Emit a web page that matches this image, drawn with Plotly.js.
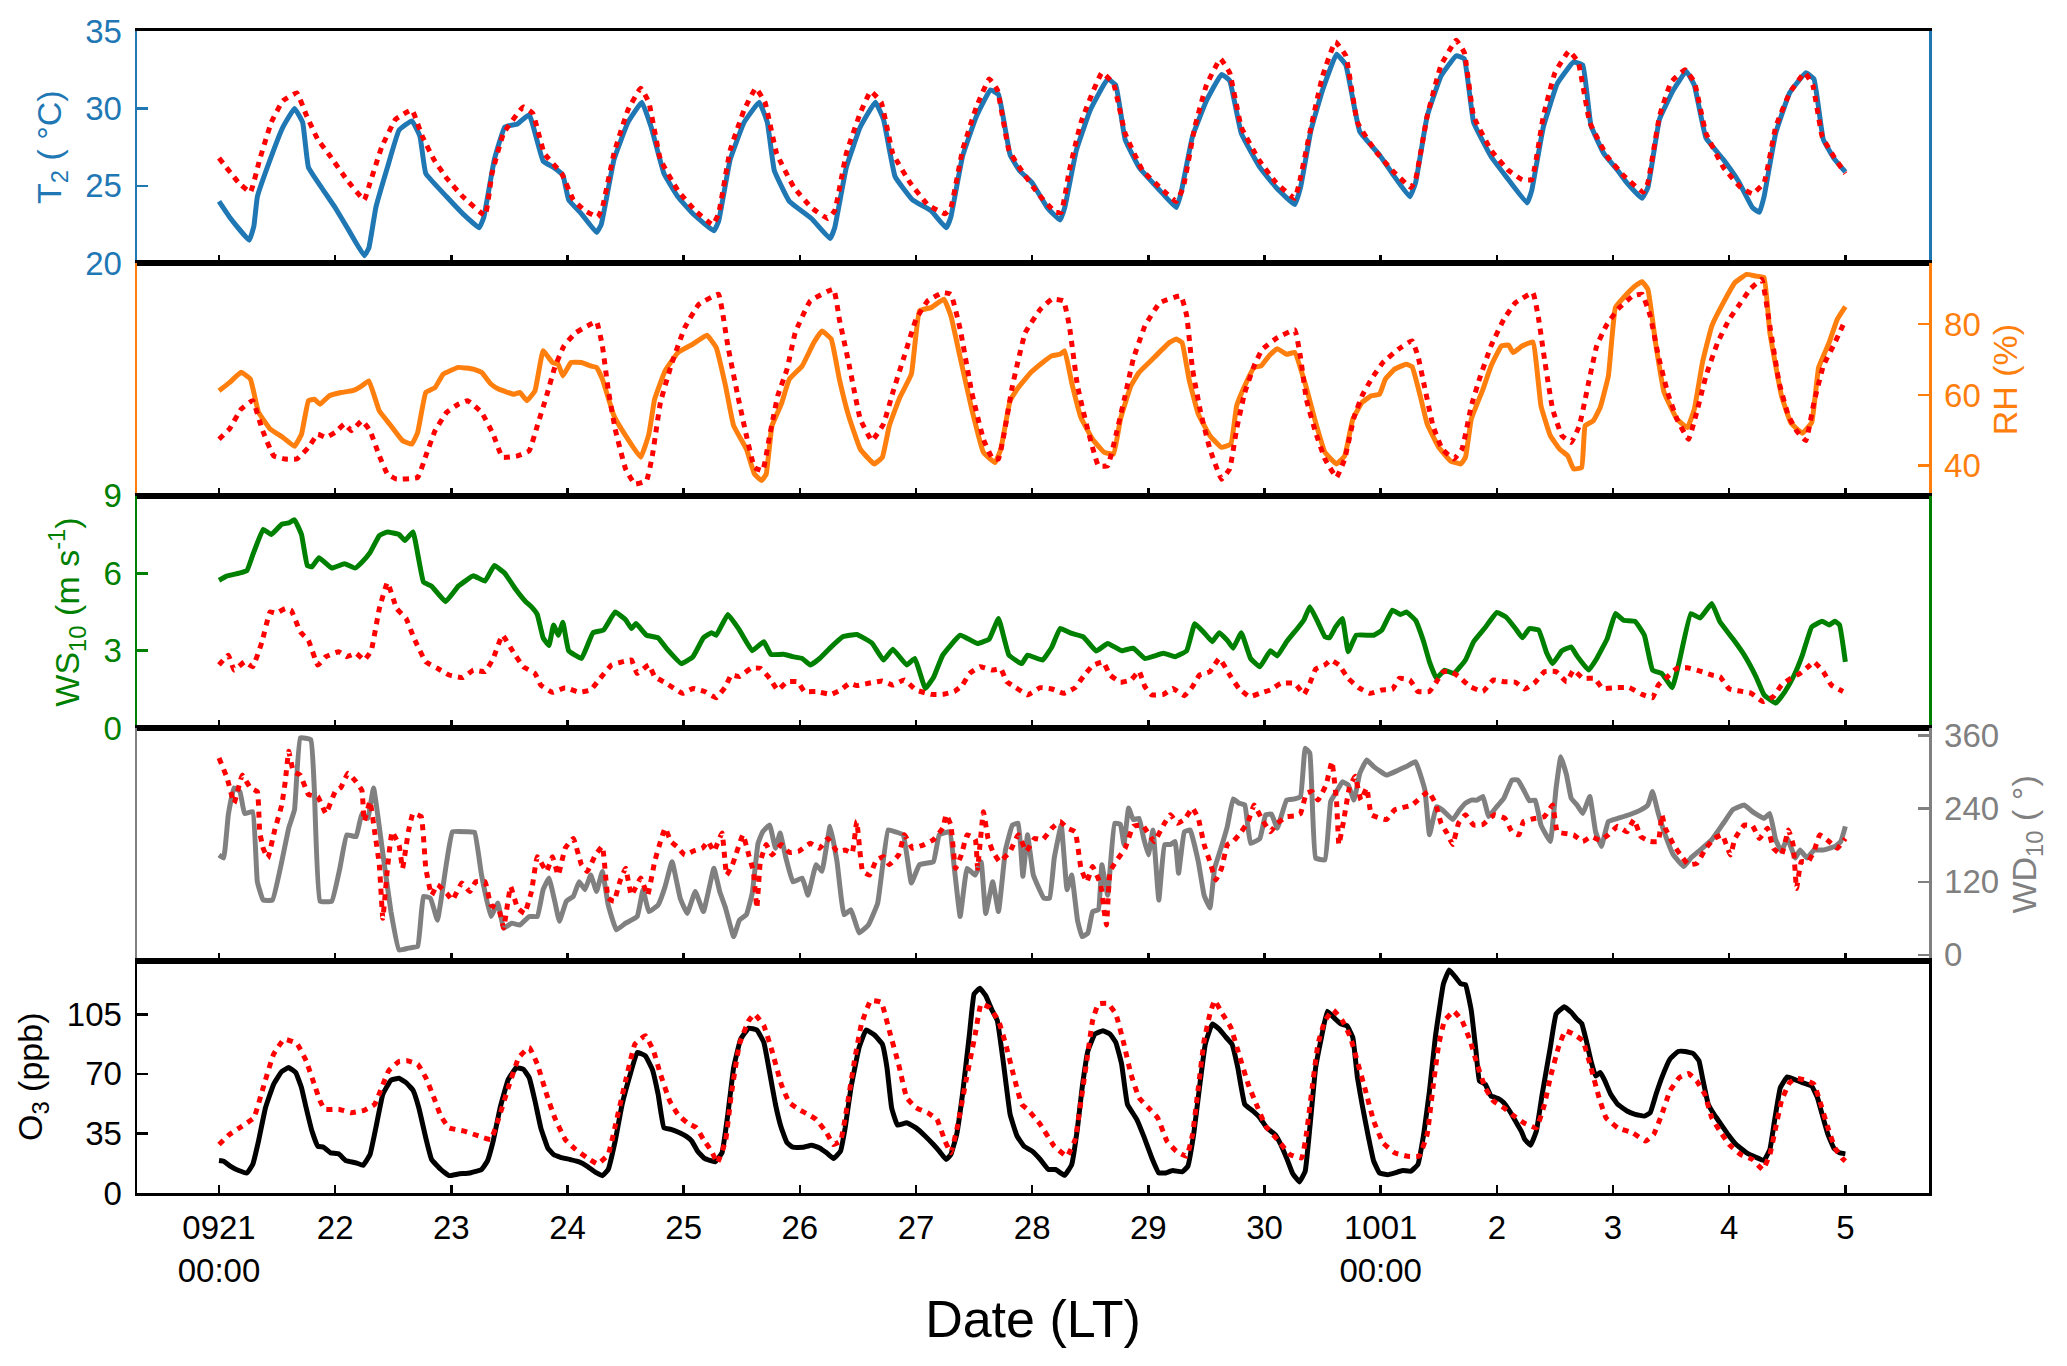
<!DOCTYPE html>
<html>
<head>
<meta charset="utf-8">
<script src="https://cdn.plot.ly/plotly-3.0.1.min.js"></script>
<style>html,body{margin:0;padding:0;background:#fff;}#chart{width:2067px;height:1366px;}</style>
</head>
<body>
<div id="chart"></div>
<script>
// ---- Data (day offset from 09-21 00:00 LT, value) ----
const DAY_TICKS = [0,1,2,3,4,5,6,7,8,9,10,11,12,13,14];
const DAY_LABELS = ['0921<br>00:00','22','23','24','25','26','27','28','29','30','1001<br>00:00','2','3','4','5'];

const T2_OBS = [[0,24.0],[0.09,23.0],[0.26,21.5],[0.3,22.4],[0.33,24.3],[0.44,26.7],[0.55,28.8],[0.65,30.0],[0.72,29.1],[0.77,26.2],[0.9,24.7],[1.0,23.6],[1.12,22.1],[1.25,20.5],[1.29,21.0],[1.35,23.6],[1.45,26.2],[1.55,28.6],[1.66,29.2],[1.73,28.2],[1.78,25.8],[1.96,24.3],[2.1,23.2],[2.24,22.3],[2.28,23.0],[2.37,26.7],[2.46,28.8],[2.57,29.0],[2.67,29.6],[2.79,26.6],[2.88,26.2],[2.96,25.7],[3.01,24.1],[3.12,23.2],[3.25,22.0],[3.29,22.5],[3.4,26.7],[3.52,29.1],[3.64,30.4],[3.72,28.8],[3.83,25.8],[3.95,24.3],[4.08,23.2],[4.26,22.1],[4.3,22.7],[4.4,26.7],[4.52,29.1],[4.65,30.4],[4.72,29.1],[4.78,26.0],[4.91,24.0],[5.1,22.9],[5.26,21.6],[5.3,22.3],[5.4,26.2],[5.52,28.8],[5.65,30.4],[5.72,29.3],[5.82,25.6],[5.97,24.1],[6.13,23.4],[6.26,22.3],[6.3,23.0],[6.4,26.9],[6.52,29.5],[6.64,31.2],[6.71,30.9],[6.81,27.0],[6.89,26.0],[7.0,25.2],[7.13,23.6],[7.24,22.8],[7.28,23.6],[7.38,27.3],[7.5,29.9],[7.65,31.9],[7.72,31.5],[7.8,28.0],[7.92,26.2],[8.1,24.7],[8.24,23.6],[8.28,24.5],[8.38,28.2],[8.5,30.5],[8.63,32.2],[8.7,31.8],[8.8,28.4],[8.96,26.2],[9.1,24.9],[9.26,23.8],[9.31,24.9],[9.4,28.6],[9.5,31.2],[9.62,33.5],[9.7,32.8],[9.82,28.5],[9.99,27.0],[10.1,25.8],[10.25,24.3],[10.3,25.2],[10.4,29.5],[10.52,32.1],[10.65,33.4],[10.72,33.2],[10.8,29.1],[10.95,26.9],[11.08,25.6],[11.26,23.9],[11.3,24.7],[11.4,28.8],[11.52,31.6],[11.66,33.0],[11.74,32.8],[11.81,28.9],[11.92,27.1],[12.04,26.0],[12.12,25.2],[12.25,24.2],[12.3,24.9],[12.4,29.3],[12.52,31.2],[12.63,32.4],[12.7,31.5],[12.8,28.1],[12.95,26.7],[13.08,25.3],[13.2,23.6],[13.26,23.3],[13.3,24.3],[13.4,28.4],[13.52,31.0],[13.66,32.3],[13.73,31.9],[13.81,28.0],[13.9,26.8],[14.0,25.9]];

const T2_MOD = [[0,26.8],[0.17,25.2],[0.27,24.6],[0.35,26.7],[0.45,29.1],[0.55,30.5],[0.67,31.0],[0.75,29.6],[0.85,28.0],[0.95,27.0],[1.1,25.4],[1.25,24.1],[1.3,25.2],[1.4,27.5],[1.52,29.3],[1.66,29.9],[1.75,28.2],[1.85,26.7],[1.96,25.5],[2.1,24.3],[2.29,23.1],[2.35,25.8],[2.45,28.4],[2.62,30.1],[2.7,29.7],[2.8,27.1],[2.95,25.8],[3.05,24.1],[3.15,23.4],[3.26,23.0],[3.3,23.6],[3.4,27.1],[3.52,29.9],[3.63,31.3],[3.7,30.4],[3.8,26.7],[3.95,24.7],[4.1,23.4],[4.25,22.5],[4.3,23.2],[4.4,27.3],[4.52,29.9],[4.62,31.3],[4.7,30.4],[4.8,27.1],[4.95,24.9],[5.1,23.6],[5.24,22.9],[5.3,23.4],[5.4,27.1],[5.52,29.7],[5.61,31.1],[5.7,30.4],[5.8,27.1],[5.95,25.2],[6.1,23.8],[6.25,23.2],[6.3,23.6],[6.4,27.3],[6.52,30.1],[6.63,31.9],[6.7,31.2],[6.8,27.3],[6.89,26.2],[7.05,24.5],[7.2,23.3],[7.25,23.3],[7.32,26.0],[7.42,29.1],[7.6,32.3],[7.7,31.6],[7.8,28.4],[7.95,26.0],[8.1,24.9],[8.24,24.0],[8.3,24.9],[8.4,28.8],[8.5,31.5],[8.62,33.2],[8.7,32.3],[8.8,28.8],[8.95,26.7],[9.1,25.2],[9.26,24.2],[9.3,25.2],[9.4,28.8],[9.5,32.1],[9.61,34.3],[9.7,33.4],[9.8,29.1],[9.95,27.3],[10.1,26.0],[10.26,24.9],[10.3,25.4],[10.4,29.5],[10.52,32.8],[10.65,34.4],[10.72,33.6],[10.8,29.5],[10.95,27.3],[11.1,26.0],[11.22,25.4],[11.3,25.4],[11.4,29.5],[11.5,32.3],[11.62,33.7],[11.7,33.0],[11.8,29.1],[11.95,26.9],[12.1,25.6],[12.26,24.6],[12.3,25.2],[12.4,29.5],[12.5,31.7],[12.62,32.5],[12.7,31.7],[12.8,28.4],[12.95,26.2],[13.1,24.9],[13.2,24.5],[13.3,25.2],[13.4,28.8],[13.52,31.0],[13.65,32.3],[13.72,31.5],[13.8,28.2],[13.9,26.9],[14.0,25.8]];

const RH_OBS = [[0,61.2],[0.09,63.5],[0.19,66.4],[0.27,64.5],[0.34,55.1],[0.44,50.4],[0.55,48.0],[0.65,45.5],[0.71,48.9],[0.77,58.4],[0.82,58.8],[0.87,57.4],[0.95,59.8],[1.05,60.7],[1.15,61.2],[1.23,62.6],[1.29,64.0],[1.38,55.5],[1.48,51.3],[1.58,47.1],[1.66,46.1],[1.71,49.4],[1.78,60.7],[1.86,62.1],[1.93,65.9],[2.06,67.8],[2.19,67.3],[2.26,66.4],[2.34,63.1],[2.41,61.6],[2.54,60.2],[2.59,60.7],[2.65,58.4],[2.72,61.2],[2.79,72.5],[2.87,69.2],[2.92,68.7],[2.96,65.4],[3.03,69.2],[3.12,69.2],[3.2,68.2],[3.25,67.8],[3.3,64.5],[3.4,54.1],[3.5,48.5],[3.63,42.4],[3.7,48.9],[3.75,58.8],[3.84,66.8],[3.95,72.0],[4.08,74.4],[4.2,76.9],[4.28,73.4],[4.36,62.6],[4.43,51.3],[4.54,44.7],[4.61,37.6],[4.67,35.8],[4.71,37.6],[4.76,51.3],[4.84,57.4],[4.91,64.5],[5.02,68.2],[5.12,74.8],[5.19,78.1],[5.27,75.8],[5.34,64.5],[5.42,54.1],[5.52,44.7],[5.64,40.5],[5.71,42.4],[5.77,51.3],[5.86,59.3],[5.96,65.9],[6.03,83.8],[6.13,84.7],[6.24,87.1],[6.3,82.4],[6.38,70.6],[6.48,56.0],[6.58,43.8],[6.68,40.9],[6.73,44.7],[6.81,58.4],[6.88,62.1],[6.99,66.4],[7.09,69.2],[7.17,71.1],[7.24,71.5],[7.28,72.5],[7.34,63.5],[7.42,53.6],[7.52,47.5],[7.62,43.8],[7.7,43.3],[7.76,53.2],[7.85,62.6],[7.92,66.4],[8.05,70.6],[8.18,74.8],[8.24,75.8],[8.29,74.8],[8.35,64.5],[8.43,54.6],[8.53,48.5],[8.63,45.2],[8.71,46.1],[8.76,56.9],[8.83,62.6],[8.91,67.8],[8.97,68.2],[9.04,71.1],[9.11,73.1],[9.19,71.5],[9.26,72.0],[9.36,62.1],[9.44,52.2],[9.52,43.8],[9.62,40.5],[9.69,42.8],[9.76,53.2],[9.84,57.9],[9.92,59.8],[9.99,60.2],[10.04,64.5],[10.12,67.3],[10.22,68.7],[10.27,68.0],[10.34,59.8],[10.4,51.8],[10.5,45.2],[10.6,41.4],[10.69,40.5],[10.73,42.4],[10.78,53.2],[10.88,61.6],[10.95,68.2],[11.04,73.9],[11.1,74.1],[11.14,72.0],[11.22,73.9],[11.31,75.0],[11.38,56.9],[11.46,48.5],[11.54,44.7],[11.61,42.8],[11.66,39.1],[11.73,39.5],[11.76,51.3],[11.83,52.7],[11.89,56.5],[11.96,65.4],[12.02,84.7],[12.09,87.5],[12.19,90.8],[12.25,92.0],[12.3,89.9],[12.37,73.9],[12.44,60.7],[12.55,53.2],[12.64,50.8],[12.7,56.0],[12.77,69.2],[12.85,79.5],[12.95,86.1],[13.05,91.8],[13.15,94.1],[13.23,93.6],[13.3,93.2],[13.35,77.6],[13.45,59.8],[13.53,52.2],[13.63,49.2],[13.71,52.2],[13.77,67.8],[13.86,74.8],[13.93,81.4],[14.0,85.0]];

const RH_MOD = [[0,47.5],[0.09,50.4],[0.19,56.0],[0.29,58.4],[0.37,50.4],[0.47,42.8],[0.57,41.9],[0.67,41.9],[0.77,45.2],[0.85,48.9],[0.92,48.0],[1.0,49.4],[1.08,51.8],[1.14,49.9],[1.23,52.7],[1.3,49.9],[1.38,42.8],[1.45,37.6],[1.53,36.2],[1.71,36.7],[1.78,42.8],[1.86,49.9],[1.96,55.1],[2.06,57.4],[2.14,58.4],[2.26,55.1],[2.36,48.9],[2.44,42.4],[2.57,42.8],[2.67,44.2],[2.74,51.3],[2.82,59.8],[2.89,67.8],[2.97,73.9],[3.07,77.6],[3.17,79.5],[3.25,80.7],[3.3,73.9],[3.35,61.6],[3.41,50.4],[3.5,39.1],[3.58,34.8],[3.68,35.8],[3.73,42.8],[3.8,57.9],[3.9,69.2],[4.01,79.1],[4.13,85.6],[4.3,88.5],[4.33,84.2],[4.38,73.9],[4.46,60.7],[4.54,48.5],[4.61,39.5],[4.68,38.6],[4.74,48.5],[4.81,59.8],[4.89,67.3],[4.96,77.6],[5.09,86.6],[5.29,89.9],[5.34,81.4],[5.42,69.2],[5.52,53.2],[5.62,47.1],[5.72,51.8],[5.8,60.7],[5.9,71.1],[6.0,81.4],[6.1,86.6],[6.23,88.9],[6.3,88.5],[6.38,78.6],[6.48,60.7],[6.58,47.5],[6.66,41.9],[6.71,41.9],[6.76,49.4],[6.83,62.6],[6.94,77.6],[7.07,84.2],[7.17,87.1],[7.27,86.6],[7.32,79.5],[7.39,62.6],[7.47,51.3],[7.57,40.0],[7.65,40.0],[7.72,48.5],[7.8,59.8],[7.87,70.1],[7.97,79.5],[8.1,86.1],[8.28,88.0],[8.33,82.4],[8.38,67.3],[8.45,55.1],[8.53,44.7],[8.63,36.2],[8.7,39.1],[8.76,50.4],[8.83,60.7],[8.91,68.2],[8.98,72.9],[9.11,76.2],[9.26,78.4],[9.31,70.6],[9.36,58.8],[9.44,49.4],[9.52,41.9],[9.62,36.7],[9.69,41.9],[9.77,53.6],[9.84,59.8],[9.92,64.5],[10.02,69.2],[10.15,72.9],[10.27,75.3],[10.32,71.1],[10.37,63.5],[10.45,51.3],[10.53,44.7],[10.63,41.9],[10.7,44.7],[10.78,56.9],[10.85,64.5],[10.95,73.9],[11.06,81.4],[11.16,86.1],[11.31,88.9],[11.36,81.4],[11.41,70.1],[11.48,56.0],[11.56,48.5],[11.64,46.6],[11.71,51.3],[11.79,63.5],[11.86,73.9],[11.94,79.5],[12.04,84.2],[12.17,88.0],[12.25,88.5],[12.32,82.4],[12.39,71.1],[12.47,60.7],[12.55,53.2],[12.65,47.5],[12.72,55.1],[12.8,65.4],[12.9,74.8],[13.0,81.4],[13.1,86.1],[13.18,89.9],[13.28,92.7],[13.35,79.5],[13.43,63.5],[13.51,54.1],[13.58,49.9],[13.66,47.1],[13.73,57.9],[13.81,68.2],[13.91,74.8],[14.0,81.2]];

const WS_OBS = [[0,5.73],[0.07,5.9],[0.17,6.0],[0.24,6.1],[0.29,6.7],[0.38,7.7],[0.45,7.5],[0.54,7.9],[0.6,7.95],[0.65,8.07],[0.71,7.5],[0.76,6.3],[0.8,6.25],[0.86,6.6],[0.97,6.2],[1.08,6.37],[1.17,6.2],[1.23,6.43],[1.3,6.8],[1.38,7.46],[1.45,7.6],[1.55,7.5],[1.6,7.27],[1.67,7.6],[1.76,5.66],[1.83,5.5],[1.95,4.9],[2.06,5.5],[2.19,5.9],[2.29,5.7],[2.37,6.3],[2.46,6.0],[2.56,5.34],[2.64,4.9],[2.69,4.7],[2.74,4.4],[2.79,3.5],[2.84,3.2],[2.88,4.0],[2.92,3.6],[2.96,4.1],[3.01,3.0],[3.12,2.7],[3.22,3.7],[3.31,3.8],[3.41,4.5],[3.5,4.2],[3.55,3.86],[3.59,4.05],[3.68,3.6],[3.78,3.5],[3.85,3.1],[3.98,2.5],[4.08,2.77],[4.17,3.5],[4.24,3.7],[4.28,3.6],[4.38,4.4],[4.48,3.8],[4.59,3.0],[4.69,3.35],[4.75,2.86],[4.86,2.86],[4.94,2.77],[5.02,2.7],[5.09,2.45],[5.17,2.7],[5.27,3.15],[5.37,3.54],[5.49,3.63],[5.62,3.3],[5.72,2.64],[5.8,3.06],[5.92,2.45],[5.99,2.7],[6.08,1.54],[6.15,1.96],[6.23,2.83],[6.38,3.6],[6.53,3.28],[6.63,3.45],[6.71,4.25],[6.8,2.83],[6.91,2.5],[6.96,2.83],[7.09,2.64],[7.17,3.15],[7.24,3.86],[7.34,3.67],[7.44,3.54],[7.55,2.99],[7.65,3.28],[7.77,3.0],[7.87,3.1],[7.97,2.7],[8.13,2.9],[8.23,2.77],[8.33,3.0],[8.4,4.05],[8.48,3.7],[8.55,3.35],[8.61,3.7],[8.68,3.4],[8.73,3.1],[8.8,3.7],[8.88,2.7],[8.96,2.38],[9.05,3.0],[9.11,2.8],[9.19,3.35],[9.29,3.9],[9.34,4.2],[9.39,4.7],[9.46,4.1],[9.52,3.54],[9.56,3.5],[9.61,3.9],[9.67,4.25],[9.72,2.96],[9.79,3.6],[9.94,3.6],[10.01,3.8],[10.1,4.57],[10.17,4.4],[10.22,4.5],[10.3,4.18],[10.37,3.35],[10.42,2.57],[10.48,1.93],[10.55,2.25],[10.63,2.12],[10.73,2.64],[10.8,3.35],[10.9,3.9],[11.0,4.48],[11.08,4.3],[11.16,3.86],[11.22,3.5],[11.28,3.86],[11.36,3.8],[11.43,2.9],[11.48,2.5],[11.56,3.0],[11.64,3.15],[11.69,2.8],[11.79,2.25],[11.86,2.7],[11.95,3.47],[12.02,4.44],[12.09,4.18],[12.19,4.14],[12.27,3.6],[12.34,2.25],[12.42,2.12],[12.51,1.57],[12.57,2.57],[12.67,4.44],[12.75,4.27],[12.85,4.83],[12.92,4.12],[13.03,3.47],[13.13,2.83],[13.23,2.0],[13.3,1.29],[13.4,0.97],[13.48,1.42],[13.56,2.06],[13.63,2.83],[13.71,3.92],[13.8,4.14],[13.86,4.0],[13.91,4.14],[13.95,4.0],[14.0,2.57]];

const WS_MOD = [[0,2.45],[0.08,2.83],[0.13,2.25],[0.22,2.57],[0.29,2.38],[0.37,3.35],[0.44,4.5],[0.49,4.45],[0.57,4.63],[0.62,4.57],[0.7,3.73],[0.77,3.4],[0.85,2.45],[0.92,2.77],[1.03,2.96],[1.1,2.77],[1.18,2.9],[1.25,2.64],[1.31,3.0],[1.38,4.63],[1.45,5.64],[1.53,4.63],[1.61,4.25],[1.68,3.47],[1.78,2.57],[1.88,2.32],[1.98,2.06],[2.1,1.96],[2.19,2.25],[2.29,2.19],[2.36,2.7],[2.44,3.6],[2.54,2.9],[2.62,2.38],[2.72,2.12],[2.77,1.67],[2.87,1.39],[2.98,1.57],[3.1,1.39],[3.2,1.48],[3.27,1.87],[3.38,2.45],[3.47,2.57],[3.55,2.64],[3.6,2.12],[3.7,2.45],[3.75,2.0],[3.85,1.74],[3.99,1.35],[4.08,1.54],[4.18,1.42],[4.28,1.18],[4.36,1.61],[4.41,2.06],[4.48,2.0],[4.58,2.32],[4.66,2.32],[4.74,1.93],[4.81,1.48],[4.89,1.8],[4.98,1.8],[5.04,1.42],[5.14,1.42],[5.27,1.31],[5.35,1.48],[5.43,1.74],[5.49,1.65],[5.59,1.74],[5.71,1.83],[5.8,1.67],[5.9,1.87],[6.0,1.48],[6.13,1.31],[6.23,1.31],[6.33,1.42],[6.4,1.67],[6.46,2.12],[6.55,2.38],[6.66,2.25],[6.73,2.3],[6.78,1.8],[6.86,1.57],[6.96,1.29],[7.07,1.57],[7.17,1.52],[7.27,1.35],[7.37,1.57],[7.44,2.0],[7.52,2.42],[7.61,2.57],[7.67,2.06],[7.76,1.78],[7.85,1.87],[7.92,2.21],[7.97,1.61],[8.03,1.29],[8.13,1.31],[8.21,1.54],[8.31,1.26],[8.38,1.61],[8.44,2.06],[8.53,2.19],[8.61,2.7],[8.71,2.0],[8.78,1.54],[8.87,1.22],[8.96,1.35],[9.05,1.48],[9.14,1.74],[9.26,1.74],[9.34,1.31],[9.39,1.74],[9.44,2.29],[9.52,2.45],[9.57,2.64],[9.64,2.45],[9.72,1.93],[9.81,1.57],[9.91,1.35],[10.01,1.48],[10.1,1.5],[10.16,1.93],[10.25,1.87],[10.32,1.42],[10.42,1.42],[10.48,1.8],[10.54,2.19],[10.62,2.17],[10.69,1.93],[10.77,1.61],[10.88,1.42],[10.97,1.87],[11.06,1.8],[11.16,1.78],[11.24,1.52],[11.33,1.78],[11.41,2.19],[11.51,2.19],[11.6,1.8],[11.66,2.25],[11.74,1.93],[11.84,1.93],[11.91,1.54],[12.02,1.57],[12.14,1.57],[12.25,1.31],[12.34,1.18],[12.39,1.67],[12.47,2.0],[12.55,2.32],[12.64,2.34],[12.75,2.21],[12.85,2.06],[12.92,2.0],[13.0,1.52],[13.09,1.44],[13.19,1.35],[13.29,1.03],[13.38,1.22],[13.45,1.67],[13.53,1.93],[13.61,2.12],[13.68,2.38],[13.73,2.57],[13.81,2.19],[13.88,1.67],[13.98,1.42]];

const WD_OBS = [[0,164],[0.04,159],[0.08,230],[0.13,274],[0.18,268],[0.22,232],[0.29,235],[0.33,120],[0.38,90],[0.46,90],[0.54,153],[0.6,208],[0.65,238],[0.7,356],[0.79,353],[0.82,274],[0.87,88],[0.97,88],[1.04,142],[1.1,197],[1.18,194],[1.23,232],[1.28,224],[1.33,274],[1.4,181],[1.48,71],[1.55,8],[1.63,11],[1.71,14],[1.76,96],[1.82,93],[1.88,57],[1.96,153],[2.01,202],[2.14,202],[2.2,201],[2.26,131],[2.34,63],[2.4,85],[2.45,44],[2.52,52],[2.59,49],[2.67,63],[2.74,63],[2.79,107],[2.84,126],[2.89,88],[2.93,55],[2.99,88],[3.05,96],[3.1,120],[3.15,107],[3.2,131],[3.25,104],[3.3,137],[3.35,82],[3.42,41],[3.5,52],[3.6,63],[3.65,107],[3.7,71],[3.78,82],[3.84,112],[3.9,153],[3.97,93],[4.03,68],[4.1,104],[4.17,71],[4.26,142],[4.31,104],[4.36,77],[4.43,30],[4.48,57],[4.54,66],[4.59,101],[4.64,183],[4.68,202],[4.74,213],[4.79,175],[4.83,200],[4.88,159],[4.94,120],[5.02,126],[5.07,98],[5.14,148],[5.19,137],[5.26,211],[5.32,153],[5.38,66],[5.44,74],[5.51,36],[5.59,49],[5.67,85],[5.76,205],[5.82,202],[5.89,197],[5.96,118],[6.03,148],[6.15,153],[6.2,197],[6.29,202],[6.33,142],[6.38,63],[6.44,142],[6.51,131],[6.56,153],[6.6,68],[6.66,120],[6.71,71],[6.77,172],[6.83,213],[6.88,216],[6.92,129],[6.96,197],[7.01,131],[7.1,93],[7.15,93],[7.19,159],[7.25,213],[7.3,107],[7.34,131],[7.39,57],[7.43,30],[7.48,36],[7.52,71],[7.57,74],[7.6,148],[7.65,98],[7.71,216],[7.76,214],[7.79,181],[7.83,241],[7.87,222],[7.92,224],[7.96,191],[8.0,164],[8.04,205],[8.09,90],[8.14,181],[8.19,181],[8.23,186],[8.26,134],[8.31,202],[8.36,205],[8.43,153],[8.48,98],[8.53,77],[8.57,142],[8.62,172],[8.68,211],[8.73,256],[8.78,249],[8.83,246],[8.88,183],[8.96,191],[9.01,230],[9.06,231],[9.11,208],[9.19,254],[9.26,256],[9.31,260],[9.35,339],[9.39,331],[9.44,159],[9.52,156],[9.57,252],[9.62,268],[9.67,284],[9.72,279],[9.77,254],[9.82,298],[9.88,320],[9.94,309],[10.05,295],[10.15,303],[10.22,309],[10.3,317],[10.38,271],[10.42,197],[10.48,243],[10.53,238],[10.62,222],[10.68,238],[10.73,249],[10.78,254],[10.83,254],[10.88,260],[10.93,227],[10.99,241],[11.06,257],[11.13,287],[11.18,287],[11.23,271],[11.28,253],[11.33,254],[11.38,213],[11.46,186],[11.51,274],[11.55,325],[11.6,295],[11.64,257],[11.69,246],[11.74,232],[11.8,260],[11.85,202],[11.9,178],[11.96,219],[12.04,224],[12.14,230],[12.24,238],[12.3,246],[12.34,268],[12.39,232],[12.44,202],[12.52,164],[12.61,145],[12.67,159],[12.75,172],[12.85,189],[12.95,216],[13.03,238],[13.13,246],[13.2,235],[13.3,224],[13.35,232],[13.4,189],[13.45,170],[13.5,191],[13.57,159],[13.61,172],[13.67,159],[13.73,172],[13.81,172],[13.91,178],[13.96,186],[14.0,211]];

const WD_MOD = [[0,323],[0.07,290],[0.13,249],[0.2,295],[0.27,274],[0.33,268],[0.35,202],[0.38,175],[0.42,159],[0.48,205],[0.54,246],[0.57,284],[0.6,334],[0.64,301],[0.7,295],[0.77,263],[0.85,260],[0.92,232],[1.0,268],[1.05,275],[1.11,298],[1.18,284],[1.23,270],[1.25,219],[1.3,252],[1.34,202],[1.38,148],[1.41,60],[1.45,142],[1.49,202],[1.55,180],[1.58,142],[1.63,202],[1.67,232],[1.74,227],[1.78,142],[1.83,98],[1.88,115],[1.96,101],[2.01,90],[2.09,118],[2.16,104],[2.21,120],[2.29,120],[2.34,82],[2.41,74],[2.45,44],[2.51,112],[2.57,77],[2.63,68],[2.69,104],[2.74,161],[2.82,137],[2.87,161],[2.92,131],[2.98,175],[3.05,191],[3.12,148],[3.17,137],[3.24,164],[3.3,178],[3.35,93],[3.4,88],[3.45,120],[3.5,142],[3.55,98],[3.63,126],[3.69,98],[3.75,153],[3.8,186],[3.84,208],[3.89,186],[3.94,178],[4.01,164],[4.08,170],[4.16,175],[4.21,186],[4.26,170],[4.33,200],[4.37,131],[4.42,148],[4.51,197],[4.56,164],[4.6,137],[4.63,77],[4.66,153],[4.71,181],[4.76,164],[4.84,181],[4.91,168],[4.99,170],[5.09,183],[5.17,175],[5.24,191],[5.32,170],[5.39,172],[5.45,167],[5.49,219],[5.54,137],[5.6,131],[5.66,156],[5.72,161],[5.77,148],[5.85,164],[5.9,197],[5.97,175],[6.07,181],[6.15,189],[6.23,208],[6.26,230],[6.3,213],[6.34,142],[6.39,164],[6.44,197],[6.51,190],[6.53,142],[6.58,235],[6.62,191],[6.66,170],[6.72,153],[6.81,170],[6.88,197],[6.95,170],[7.02,191],[7.09,189],[7.17,208],[7.24,219],[7.3,208],[7.37,202],[7.42,142],[7.47,120],[7.52,145],[7.59,115],[7.62,71],[7.64,49],[7.67,137],[7.72,153],[7.8,175],[7.87,211],[7.95,213],[8.05,186],[8.13,213],[8.19,230],[8.25,216],[8.31,222],[8.38,241],[8.43,224],[8.48,181],[8.53,153],[8.58,123],[8.63,142],[8.68,181],[8.73,186],[8.8,202],[8.86,219],[8.91,246],[8.98,222],[9.05,202],[9.11,216],[9.19,227],[9.26,228],[9.31,232],[9.36,265],[9.41,268],[9.46,254],[9.53,279],[9.58,317],[9.62,252],[9.64,181],[9.68,219],[9.73,274],[9.78,293],[9.83,254],[9.88,274],[9.92,230],[10.05,222],[10.12,238],[10.27,246],[10.41,268],[10.47,249],[10.52,216],[10.57,200],[10.62,181],[10.67,216],[10.73,230],[10.8,213],[10.88,214],[10.98,230],[11.07,224],[11.13,202],[11.19,197],[11.23,219],[11.33,224],[11.41,227],[11.48,246],[11.52,202],[11.66,197],[11.74,186],[11.81,194],[11.89,188],[11.96,197],[12.04,211],[12.12,202],[12.18,222],[12.24,194],[12.32,186],[12.39,186],[12.42,230],[12.45,208],[12.52,181],[12.6,159],[12.65,148],[12.72,150],[12.8,175],[12.87,191],[12.94,197],[13.01,164],[13.05,191],[13.13,213],[13.2,212],[13.26,191],[13.33,208],[13.38,175],[13.45,164],[13.51,205],[13.55,181],[13.58,109],[13.62,153],[13.68,153],[13.73,170],[13.78,197],[13.86,186],[13.93,175],[14.0,191]];

const O3_OBS = [[0,19.1],[0.04,18.7],[0.1,15.7],[0.17,13.2],[0.24,11.8],[0.29,16.7],[0.34,30.5],[0.4,50.1],[0.47,63.9],[0.54,71.4],[0.6,73.7],[0.66,70.8],[0.71,61.9],[0.75,50.1],[0.8,36.4],[0.85,27.5],[0.9,26.9],[0.96,23.6],[1.03,23.0],[1.09,19.1],[1.18,17.7],[1.24,16.3],[1.3,22.6],[1.35,38.3],[1.41,58.0],[1.48,66.3],[1.55,67.4],[1.61,64.9],[1.67,60.4],[1.72,50.1],[1.78,32.4],[1.83,19.7],[1.91,13.8],[1.98,10.2],[2.06,11.2],[2.16,11.8],[2.26,13.8],[2.31,18.7],[2.36,30.5],[2.42,50.1],[2.49,66.8],[2.56,73.7],[2.62,72.7],[2.67,67.8],[2.72,54.1],[2.77,38.3],[2.83,26.5],[2.88,22.6],[2.94,21.0],[3.02,19.7],[3.1,18.3],[3.17,15.7],[3.25,11.8],[3.3,10.2],[3.35,13.8],[3.41,30.5],[3.47,52.1],[3.54,69.8],[3.6,82.6],[3.67,80.6],[3.73,72.7],[3.78,58.0],[3.83,38.3],[3.89,37.4],[3.95,35.8],[4.02,33.4],[4.07,30.5],[4.12,24.6],[4.18,20.3],[4.27,18.3],[4.33,23.6],[4.38,46.2],[4.43,73.7],[4.49,90.4],[4.56,96.9],[4.63,95.8],[4.69,88.5],[4.74,70.8],[4.79,52.1],[4.84,38.3],[4.89,29.5],[4.94,26.9],[5.03,26.9],[5.1,28.1],[5.17,26.5],[5.23,23.6],[5.29,20.3],[5.35,24.6],[5.39,38.3],[5.44,61.9],[5.51,85.5],[5.57,95.8],[5.64,93.0],[5.71,87.5],[5.75,73.7],[5.79,50.1],[5.84,39.9],[5.92,41.3],[6.0,38.3],[6.08,33.4],[6.15,28.5],[6.2,24.6],[6.26,19.7],[6.3,22.6],[6.35,34.4],[6.4,58.0],[6.46,93.4],[6.5,117.0],[6.55,120.3],[6.6,116.0],[6.65,108.1],[6.7,101.3],[6.75,77.7],[6.81,46.2],[6.87,33.4],[6.93,27.5],[7.0,24.6],[7.07,19.7],[7.14,13.8],[7.2,13.8],[7.28,10.4],[7.34,16.7],[7.39,38.3],[7.43,61.9],[7.48,83.6],[7.54,93.4],[7.61,95.4],[7.67,93.4],[7.72,88.5],[7.77,75.7],[7.82,52.1],[7.9,43.3],[7.96,33.4],[8.03,20.6],[8.09,11.8],[8.15,11.8],[8.21,13.2],[8.29,12.4],[8.34,15.7],[8.39,34.4],[8.44,61.9],[8.49,87.5],[8.55,99.3],[8.61,96.3],[8.67,91.4],[8.72,87.5],[8.77,73.7],[8.83,52.1],[8.9,48.2],[8.96,44.2],[9.02,38.3],[9.09,34.4],[9.14,28.5],[9.19,20.6],[9.24,11.8],[9.3,6.5],[9.35,12.8],[9.39,38.3],[9.44,73.7],[9.49,91.4],[9.54,106.8],[9.61,102.2],[9.66,99.3],[9.71,98.3],[9.76,91.4],[9.8,67.8],[9.84,52.1],[9.89,34.4],[9.94,18.7],[9.99,11.8],[10.06,10.8],[10.12,11.8],[10.19,13.2],[10.26,12.8],[10.32,16.7],[10.37,34.4],[10.42,60.0],[10.47,91.4],[10.54,122.9],[10.59,131.1],[10.64,127.2],[10.69,122.9],[10.73,122.5],[10.78,107.2],[10.82,83.6],[10.85,65.9],[10.9,63.9],[10.95,57.0],[11.01,55.6],[11.06,53.1],[11.11,48.2],[11.16,42.3],[11.21,36.4],[11.24,31.5],[11.29,28.1],[11.34,36.4],[11.39,58.0],[11.46,85.5],[11.51,105.2],[11.58,109.5],[11.64,106.2],[11.69,102.2],[11.73,99.7],[11.77,89.5],[11.81,77.7],[11.85,68.8],[11.89,70.8],[11.93,65.9],[11.98,58.0],[12.04,52.1],[12.12,48.2],[12.19,46.2],[12.27,45.2],[12.32,47.2],[12.37,58.0],[12.42,67.8],[12.49,78.7],[12.56,83.2],[12.62,83.2],[12.69,82.0],[12.74,77.7],[12.77,67.8],[12.82,52.1],[12.87,46.2],[12.92,41.3],[12.99,34.4],[13.06,28.5],[13.15,23.6],[13.23,21.0],[13.3,19.1],[13.35,25.6],[13.39,42.3],[13.44,61.9],[13.5,68.2],[13.56,66.8],[13.63,64.9],[13.71,62.9],[13.76,56.0],[13.8,46.2],[13.85,34.4],[13.9,26.5],[13.95,23.6],[14.0,23.0]];

const O3_MOD = [[0,28.5],[0.09,34.4],[0.2,39.3],[0.3,44.2],[0.38,61.9],[0.47,81.6],[0.56,90.4],[0.67,87.9],[0.75,77.7],[0.82,63.9],[0.87,54.1],[0.91,49.2],[1.03,49.2],[1.14,47.2],[1.25,48.6],[1.34,52.1],[1.4,61.9],[1.46,71.8],[1.55,77.3],[1.62,77.7],[1.71,75.7],[1.78,67.8],[1.85,56.0],[1.91,45.2],[1.98,38.3],[2.11,36.4],[2.24,33.4],[2.34,31.5],[2.4,42.3],[2.49,61.9],[2.58,79.6],[2.67,85.5],[2.74,75.7],[2.82,58.0],[2.89,44.2],[2.98,31.5],[3.07,25.6],[3.17,20.6],[3.26,17.1],[3.35,22.6],[3.42,42.3],[3.5,65.9],[3.58,87.5],[3.67,92.4],[3.74,83.6],[3.8,69.8],[3.88,54.1],[3.95,46.2],[4.03,41.3],[4.11,38.3],[4.17,31.5],[4.24,24.6],[4.29,17.7],[4.36,30.5],[4.41,58.0],[4.48,87.5],[4.56,101.3],[4.61,105.2],[4.69,98.3],[4.76,83.6],[4.84,63.9],[4.91,53.1],[4.99,49.2],[5.07,46.2],[5.14,43.3],[5.23,35.4],[5.29,28.5],[5.35,30.5],[5.4,48.2],[5.47,77.7],[5.53,99.3],[5.61,113.1],[5.7,112.1],[5.77,95.4],[5.85,75.7],[5.92,56.0],[6.0,50.1],[6.1,47.2],[6.18,43.3],[6.25,30.5],[6.3,23.6],[6.36,40.3],[6.43,65.9],[6.51,93.4],[6.56,111.1],[6.63,109.1],[6.71,101.3],[6.78,85.5],[6.83,71.8],[6.91,52.1],[6.96,49.2],[7.07,40.3],[7.19,27.5],[7.3,21.6],[7.37,31.5],[7.42,54.1],[7.47,77.7],[7.52,101.3],[7.57,111.1],[7.65,111.5],[7.72,105.2],[7.79,87.5],[7.85,69.8],[7.92,56.0],[8.0,50.1],[8.08,44.2],[8.16,30.5],[8.24,24.6],[8.33,21.6],[8.38,34.4],[8.43,61.9],[8.48,89.5],[8.53,105.2],[8.57,113.1],[8.63,106.2],[8.71,97.3],[8.78,81.6],[8.86,63.9],[8.93,52.1],[9.01,39.3],[9.11,31.5],[9.22,22.6],[9.32,20.6],[9.36,34.4],[9.41,61.9],[9.46,87.5],[9.52,101.3],[9.59,107.6],[9.67,101.3],[9.74,91.4],[9.79,79.6],[9.87,60.0],[9.94,42.3],[10.02,29.5],[10.12,23.6],[10.23,21.6],[10.33,21.6],[10.4,34.4],[10.45,61.9],[10.5,87.5],[10.55,101.3],[10.63,106.8],[10.7,101.3],[10.77,89.5],[10.83,75.7],[10.9,61.9],[10.97,54.1],[11.06,50.1],[11.13,46.2],[11.23,41.3],[11.34,38.3],[11.41,52.1],[11.46,67.8],[11.53,85.5],[11.59,95.4],[11.66,93.4],[11.74,89.5],[11.81,73.7],[11.88,56.0],[11.94,44.2],[12.04,38.3],[12.17,35.4],[12.28,30.5],[12.35,34.4],[12.42,46.2],[12.49,60.0],[12.57,67.8],[12.65,70.2],[12.72,65.9],[12.79,58.0],[12.85,44.2],[12.92,36.4],[13.0,28.5],[13.1,22.6],[13.2,19.7],[13.29,13.8],[13.35,22.6],[13.4,38.3],[13.45,54.1],[13.52,64.9],[13.58,67.4],[13.66,66.3],[13.73,63.9],[13.78,54.1],[13.85,38.3],[13.91,26.5],[13.97,20.6],[14.0,18.7]];

// ---- Styling ----
const FONT = 'Liberation Sans, Arial, Helvetica, sans-serif';
const C_BLUE = '#1f77b4', C_ORANGE = '#ff7f0e', C_GREEN = '#008000', C_GRAY = '#808080', C_RED = '#ff0000', C_BLACK = '#000000';
const XR = [-0.706, 14.72];
const TICKFONT = 33, TITLEFONT = 34;

function xs(a){return a.map(p=>p[0]);}
function ys(a){return a.map(p=>p[1]);}
function obs(a, color, xa, ya){return {x:xs(a), y:ys(a), xaxis:xa, yaxis:ya, type:'scatter', mode:'lines', line:{color:color, width:5, shape:'spline', smoothing:0.3}, hoverinfo:'skip'};}
function mod(a, xa, ya){return {x:xs(a), y:ys(a), xaxis:xa, yaxis:ya, type:'scatter', mode:'lines', line:{color:C_RED, width:5, dash:'6px,6px', shape:'spline', smoothing:0.3}, hoverinfo:'skip'};}

const data = [
  obs(T2_OBS, C_BLUE, 'x', 'y'), mod(T2_MOD, 'x', 'y'),
  obs(RH_OBS, C_ORANGE, 'x2', 'y3'), mod(RH_MOD, 'x2', 'y3'),
  obs(WS_OBS, C_GREEN, 'x3', 'y5'), mod(WS_MOD, 'x3', 'y5'),
  obs(WD_OBS, C_GRAY, 'x4', 'y7'), mod(WD_MOD, 'x4', 'y7'),
  obs(O3_OBS, C_BLACK, 'x5', 'y9'), mod(O3_MOD, 'x5', 'y9')
];

function xax(anchor, labels, extra){
  return Object.assign({
    range: XR, anchor: anchor, tickmode:'array', tickvals: DAY_TICKS, ticktext: DAY_LABELS,
    showticklabels: labels, ticks:'inside', ticklen:8, tickwidth:2.5, tickcolor:C_BLACK,
    showline:true, mirror:true, linecolor:C_BLACK, linewidth:3, showgrid:false, zeroline:false,
    tickfont:{family:FONT, size:TICKFONT, color:C_BLACK}, ticklabelstandoff: 3, fixedrange:true
  }, extra||{});
}
function yax(domain, range, tv, side, color, labels, title, overlay, xanchor){
  const o = {
    domain: domain, range: range, side: side, anchor: xanchor, tickmode:'array', tickvals: tv,
    showticklabels: labels, ticks:'inside', ticklen:11, tickwidth:2.5, tickcolor:color,
    showgrid:false, zeroline:false, tickfont:{family:FONT, size:TICKFONT, color:color},
    ticklabelstandoff: 6, fixedrange:true
  };
  if (overlay) { o.overlaying = overlay; o.showline = false; }
  else { o.showline = true; o.mirror = true; o.linecolor = color; o.linewidth = 2.5; }
  if (title) o.title = {text: title, font:{family:FONT, size:TITLEFONT, color:color}, standoff: 14};
  return o;
}

const layout = {
  width: 2067, height: 1366,
  margin: {l:137, r:138, t:31, b:173, pad:0},
  paper_bgcolor:'#ffffff', plot_bgcolor:'#ffffff', showlegend:false, hovermode:false,
  font:{family:FONT, color:C_BLACK},
  xaxis: xax('y', false),
  xaxis2: xax('y3', false),
  xaxis3: xax('y5', false),
  xaxis4: xax('y7', false),
  xaxis5: xax('y9', true, {title:{text:'Date (LT)', font:{family:FONT, size:52, color:C_BLACK}, standoff: 14}}),
  xaxis6: {range: XR, anchor:'y9', overlaying:'x5', side:'bottom', tickmode:'array', tickvals: DAY_TICKS,
           showticklabels:false, ticks:'outside', ticklen:6, tickwidth:2.5, tickcolor:C_BLACK,
           showline:false, showgrid:false, zeroline:false, fixedrange:true},
  yaxis:  yax([0.8,1.0], [20,35], [20,25,30,35], 'left', C_BLUE, true, 'T<sub>2</sub> ( °C)', null, 'x'),
  yaxis2: yax([0.8,1.0], [20,35], [20,25,30,35], 'right', C_BLUE, false, null, 'y', 'x'),
  yaxis3: yax([0.6,0.8], [31.5,97.2], [40,60,80], 'right', C_ORANGE, true, 'RH (%)', null, 'x2'),
  yaxis4: yax([0.6,0.8], [31.5,97.2], [40,60,80], 'left', C_ORANGE, false, null, 'y3', 'x2'),
  yaxis5: yax([0.4,0.6], [0,9], [0,3,6,9], 'left', C_GREEN, true, 'WS<sub>10</sub> (m s<sup>-1</sup>)', null, 'x3'),
  yaxis6: yax([0.4,0.6], [0,9], [0,3,6,9], 'right', C_GREEN, false, null, 'y5', 'x3'),
  yaxis7: yax([0.2,0.4], [-9.4,372], [0,120,240,360], 'right', C_GRAY, true, 'WD<sub>10</sub> ( °)', null, 'x4'),
  yaxis8: yax([0.2,0.4], [-9.4,372], [0,120,240,360], 'left', C_GRAY, false, null, 'y7', 'x4'),
  yaxis9: yax([0.0,0.2], [0,136.6], [0,35,70,105], 'left', C_BLACK, true, 'O<sub>3</sub> (ppb)', null, 'x5'),
  yaxis10: yax([0.0,0.2], [0,136.6], [0,35,70,105], 'right', C_BLACK, false, null, 'y9', 'x5')
};

Plotly.newPlot('chart', data, layout, {staticPlot:true, displayModeBar:false});
</script>
</body>
</html>
